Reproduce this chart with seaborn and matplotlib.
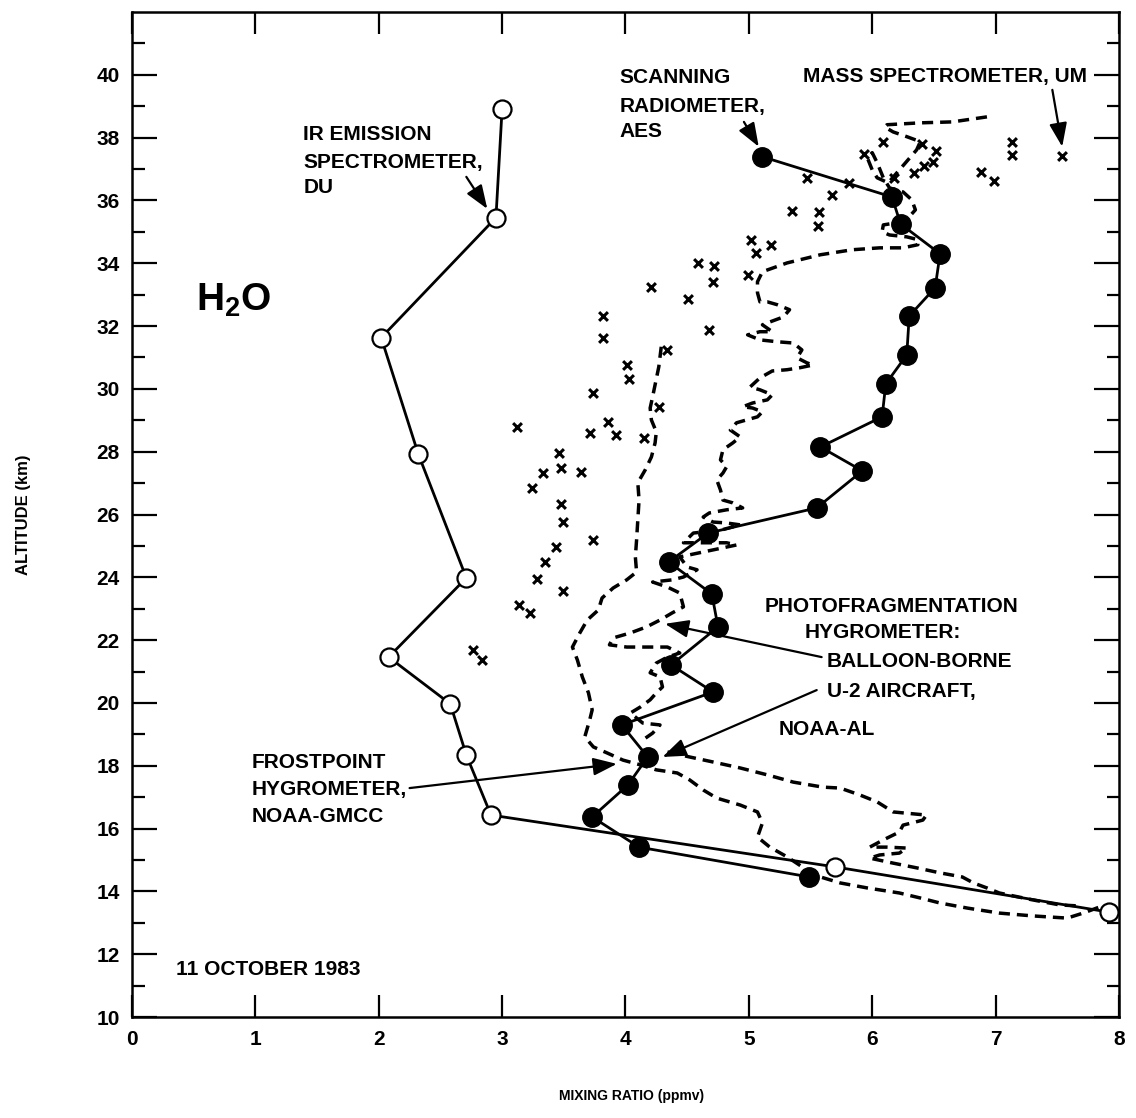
import matplotlib
matplotlib.use("Agg")
import matplotlib.pyplot as plt
import seaborn as sns

# IR emission spectrometer, DU (open circles)
ir_x = [3.00, 2.95, 2.02, 2.32, 2.71, 2.08, 2.58, 2.71, 2.91, 5.70, 7.92]
ir_y = [38.92, 35.45, 31.63, 27.93, 23.98, 21.46, 19.97, 18.34, 16.43, 14.78, 13.34]

# Scanning radiometer, AES (filled circles)
aes_x = [5.11, 6.16, 6.23, 6.55, 6.51, 6.30, 6.28, 6.11, 6.08, 5.58, 5.92, 5.55,
         4.67, 4.35, 4.70, 4.75, 4.37, 4.71, 3.97, 4.18, 4.02, 3.73, 4.11, 5.49]
aes_y = [37.39, 36.11, 35.25, 34.30, 33.22, 32.32, 31.08, 30.16, 29.11, 28.15, 27.39, 26.21,
         25.41, 24.49, 23.47, 22.42, 21.21, 20.35, 19.30, 18.28, 17.39, 16.37, 15.41, 14.46]

# Mass spectrometer, UM (crosses)
um_x = [7.54, 7.13, 7.13, 6.88, 6.99, 6.52, 6.40, 6.09, 6.49, 6.42, 6.34, 6.18, 5.93, 5.81,
        5.47, 5.67, 5.35, 5.57, 5.56, 5.02, 5.18, 5.06, 4.99, 4.59, 4.72, 4.71, 4.21, 4.51,
        4.68, 3.82, 3.82, 4.34, 4.01, 4.03, 4.27, 3.74, 3.86, 3.71, 3.92, 4.15, 3.12, 3.46,
        3.48, 3.33, 3.64, 3.24, 3.48, 3.49, 3.74, 3.44, 3.35, 3.28, 3.49, 3.14, 3.23, 2.76, 2.84]
um_y = [37.42, 37.87, 37.45, 36.91, 36.62, 37.58, 37.80, 37.87, 37.23, 37.10, 36.88, 36.72,
        37.48, 36.56, 36.72, 36.18, 35.67, 35.64, 35.19, 34.75, 34.59, 34.33, 33.63, 34.01,
        33.92, 33.41, 33.25, 32.87, 31.88, 32.32, 31.62, 31.24, 30.76, 30.32, 29.43, 29.87,
        28.95, 28.60, 28.54, 28.44, 28.79, 27.96, 27.48, 27.32, 27.36, 26.85, 26.34, 25.76,
        25.19, 24.97, 24.49, 23.95, 23.57, 23.12, 22.87, 21.69, 21.37]

# Frostpoint hygrometer, NOAA-GMCC (dashed)
frost_x = [4.29, 4.27, 4.22, 4.20, 4.21, 4.25, 4.24, 4.21, 4.16, 4.10, 4.11, 4.10, 4.09, 4.08,
           4.09, 4.01, 3.90, 3.81, 3.78, 3.69, 3.63, 3.57, 3.61, 3.65, 3.70, 3.73, 3.71, 3.67,
           3.74, 3.85, 3.98, 4.12, 4.25, 4.42, 4.52, 4.63, 4.74, 4.93, 5.07, 5.11, 5.07, 5.17,
           5.31, 5.41, 5.53, 5.74, 5.96, 6.22, 6.39, 6.55, 6.77, 7.03, 7.30, 7.58, 7.71, 7.84, 7.98]
frost_y = [31.34, 30.70, 29.75, 29.39, 29.01, 28.63, 28.28, 27.83, 27.42, 27.01, 26.46, 25.83,
           25.19, 24.65, 24.17, 23.92, 23.66, 23.34, 22.96, 22.64, 22.23, 21.78, 21.37, 20.83,
           20.32, 19.78, 19.46, 18.92, 18.60, 18.41, 18.18, 18.03, 17.87, 17.77, 17.55, 17.23,
           16.97, 16.75, 16.53, 16.18, 15.73, 15.41, 15.10, 14.84, 14.52, 14.27, 14.11, 13.95,
           13.79, 13.63, 13.47, 13.31, 13.22, 13.15, 13.31, 13.50, 13.47]

# Photofragmentation hygrometer, balloon-borne (dashed)
bal_x = [6.93, 6.65, 6.39, 6.12, 6.10, 6.17, 6.28, 6.39, 6.36, 6.29,
         6.20, 6.13, 6.04, 6.00, 5.96, 6.00, 6.04, 6.09, 6.14, 6.25,
         6.32, 6.35, 6.30, 6.20, 6.09, 6.08, 6.14, 6.28, 6.37, 6.37,
         6.25, 6.06, 5.84, 5.58, 5.31, 5.11, 5.07, 5.07, 5.09, 5.15,
         5.23, 5.33, 5.28, 5.17, 5.11, 5.19, 5.09, 4.99, 5.09, 5.23,
         5.36, 5.43, 5.39, 5.47, 5.52, 5.41, 5.31, 5.19, 5.09, 5.01,
         5.09, 5.19, 5.15, 5.03, 4.95, 5.03, 5.11, 5.07, 4.98, 4.90,
         4.85, 4.93, 4.87, 4.79, 4.77, 4.82, 4.79, 4.74, 4.77, 4.79,
         4.87, 4.95, 4.82, 4.68, 4.63, 4.71, 4.82, 4.93, 4.77, 4.55,
         4.47, 4.66, 4.82, 4.90, 4.44, 4.50, 4.58, 4.47, 4.38, 4.22,
         4.34, 4.44, 4.47, 4.38, 4.28, 4.17, 4.04, 3.90, 3.87, 4.01,
         4.17, 4.34, 4.44, 4.34, 4.25, 4.20, 4.28, 4.30, 4.25, 4.20,
         4.12, 4.04, 4.14, 4.28, 4.22, 4.14]
bal_y = [38.66, 38.50, 38.47, 38.41, 38.34, 38.18, 38.03, 37.87, 37.61, 37.29,
         36.88, 36.56, 36.72, 36.97, 37.36, 37.52, 37.20, 36.72, 36.40, 36.27,
         36.02, 35.70, 35.48, 35.29, 35.22, 35.00, 34.90, 34.84, 34.75, 34.59,
         34.49, 34.49, 34.43, 34.27, 34.01, 33.73, 33.41, 33.06, 32.77, 32.77,
         32.68, 32.52, 32.29, 32.13, 32.04, 31.82, 31.82, 31.72, 31.56, 31.50,
         31.46, 31.24, 30.99, 30.83, 30.76, 30.67, 30.61, 30.57, 30.35, 30.06,
         29.97, 29.81, 29.65, 29.55, 29.43, 29.39, 29.27, 29.11, 29.01, 28.92,
         28.69, 28.47, 28.28, 28.06, 27.74, 27.52, 27.32, 27.10, 26.78, 26.46,
         26.37, 26.21, 26.15, 26.05, 25.92, 25.76, 25.73, 25.67, 25.50, 25.41,
         25.10, 25.10, 25.10, 25.03, 24.65, 24.33, 24.24, 24.01, 23.92, 23.85,
         23.69, 23.50, 23.06, 22.87, 22.64, 22.42, 22.23, 22.07, 21.85, 21.78,
         21.78, 21.78, 21.59, 21.46, 21.27, 20.96, 20.83, 20.51, 20.32, 20.10,
         19.87, 19.68, 19.36, 19.30, 19.04, 18.82]

# Photofragmentation hygrometer, U-2 aircraft, NOAA-AL (dashed)
u2_x = [4.34, 4.52, 4.71, 4.93, 5.15, 5.36, 5.60, 5.74, 5.90, 6.04, 6.17, 6.44, 6.41, 6.25,
        6.22, 6.09, 5.98, 6.12, 6.28, 6.22, 6.06, 5.98, 6.17, 6.36, 6.55, 6.73, 6.82, 6.93,
        7.03, 7.30, 7.52, 7.66]
u2_y = [18.44, 18.28, 18.12, 17.93, 17.71, 17.48, 17.32, 17.29, 17.07, 16.85, 16.53, 16.43,
        16.27, 16.11, 15.89, 15.64, 15.41, 15.41, 15.38, 15.22, 15.16, 15.06, 14.90, 14.75,
        14.59, 14.46, 14.27, 14.11, 13.95, 13.73, 13.57, 13.54]

x_ticks = [0, 1, 2, 3, 4, 5, 6, 7, 8]
y_ticks = [10, 12, 14, 16, 18, 20, 22, 24, 26, 28, 30, 32, 34, 36, 38, 40]
y_minor = [11, 13, 15, 17, 19, 21, 23, 25, 27, 29, 31, 33, 35, 37, 39, 41]

sns.set_theme(style="ticks")
plt.rcParams["font.family"] = ["Liberation Sans", "DejaVu Sans"]
plt.rcParams["font.weight"] = "bold"
plt.rcParams["text.color"] = "black"
plt.rcParams["axes.labelcolor"] = "black"
plt.rcParams["xtick.color"] = "black"
plt.rcParams["ytick.color"] = "black"
plt.rcParams["mathtext.fontset"] = "custom"
plt.rcParams["mathtext.bf"] = "Liberation Sans:bold"
plt.rcParams["mathtext.rm"] = "Liberation Sans:bold"

fig = plt.figure(figsize=(11.36, 11.18), dpi=100)
ax = fig.add_axes([0.1162, 0.0903, 0.8688, 0.899])
ax.set_facecolor("white")

# dashed hygrometer profiles
dash_kw = dict(color="black", linewidth=2.5, linestyle=(0, (3.2, 2.0)),
               sort=False, estimator=None, ax=ax, legend=False, zorder=2)
sns.lineplot(x=frost_x, y=frost_y, **dash_kw)
sns.lineplot(x=bal_x, y=bal_y, **dash_kw)
sns.lineplot(x=u2_x, y=u2_y, **dash_kw)

# mass spectrometer crosses
sns.scatterplot(x=um_x, y=um_y, marker="x", s=40, color="black", linewidth=2.2,
                ax=ax, zorder=3, legend=False)

# radiometer / spectrometer profiles
sns.lineplot(x=aes_x, y=aes_y, sort=False, estimator=None, ax=ax, color="black",
             linewidth=2.0, marker="o", markersize=14, markerfacecolor="black",
             markeredgecolor="black", markeredgewidth=1.0, zorder=4, legend=False)
sns.lineplot(x=ir_x, y=ir_y, sort=False, estimator=None, ax=ax, color="black",
             linewidth=2.0, marker="o", markersize=13, markerfacecolor="white",
             markeredgecolor="black", markeredgewidth=1.6, zorder=5, legend=False)

ax.set_xlim(0, 8)
ax.set_ylim(10, 42)
ax.set_xticks(x_ticks)
ax.set_yticks(y_ticks)
ax.set_yticks(y_minor, minor=True)
ax.set_xticklabels([str(v) for v in x_ticks], fontweight="bold", color="black")
ax.set_yticklabels([str(v) for v in y_ticks], fontweight="bold", color="black")
ax.tick_params(axis="both", which="both", direction="in", top=True, right=True,
               width=1.6, colors="black")
ax.tick_params(axis="x", which="major", length=16, pad=9, labelsize=15)
ax.tick_params(axis="y", which="major", length=18, pad=9, labelsize=15)
ax.tick_params(axis="y", which="minor", length=9)
for sp in ax.spines.values():
    sp.set_linewidth(1.8)
    sp.set_color("black")

ax.set_xlabel("MIXING RATIO (ppmv)", fontsize=10, fontweight="bold", color="black")
ax.set_ylabel("ALTITUDE (km)", fontsize=12, fontweight="bold", color="black")
ax.xaxis.set_label_coords(0.506, -0.072)
ax.yaxis.set_label_coords(-0.102, 0.5)

txt = dict(fontsize=15, fontweight="bold", ha="left", va="center", color="black")
ax.text(0.82, 32.83, r"$\mathbf{H_2O}$", fontsize=28, ha="center", va="center",
        color="black")
ax.text(1.39, 38.09, "IR EMISSION", **txt)
ax.text(1.39, 37.20, "SPECTROMETER,", **txt)
ax.text(1.39, 36.40, "DU", **txt)
ax.text(3.95, 39.90, "SCANNING", **txt)
ax.text(3.95, 38.98, "RADIOMETER,", **txt)
ax.text(3.95, 38.18, "AES", **txt)
ax.text(5.44, 39.94, "MASS SPECTROMETER, UM", **txt)
ax.text(5.13, 23.06, "PHOTOFRAGMENTATION", **txt)
ax.text(5.45, 22.23, "HYGROMETER:", **txt)
ax.text(5.63, 21.31, "BALLOON-BORNE", **txt)
ax.text(5.63, 20.35, "U-2 AIRCRAFT,", **txt)
ax.text(5.24, 19.14, "NOAA-AL", **txt)
ax.text(0.97, 18.09, "FROSTPOINT", **txt)
ax.text(0.97, 17.23, "HYGROMETER,", **txt)
ax.text(0.97, 16.37, "NOAA-GMCC", **txt)
ax.text(0.36, 11.50, "11 OCTOBER 1983", **txt)

arrow = dict(arrowstyle="-|>,head_length=0.8,head_width=0.3", color="black", lw=1.6,
             shrinkA=0, shrinkB=0, mutation_scale=18)
arrows = [((2.71, 36.75), (2.88, 35.73)),
          ((4.96, 38.50), (5.08, 37.71)),
          ((7.46, 39.52), (7.54, 37.71)),
          ((5.59, 21.46), (4.32, 22.52)),
          ((5.55, 20.41), (4.30, 18.28)),
          ((2.25, 17.29), (3.93, 18.06))]
for start, tip in arrows:
    ax.annotate("", xy=tip, xytext=start, arrowprops=arrow, zorder=6)

fig.savefig("out.png", dpi=100, facecolor="white")
